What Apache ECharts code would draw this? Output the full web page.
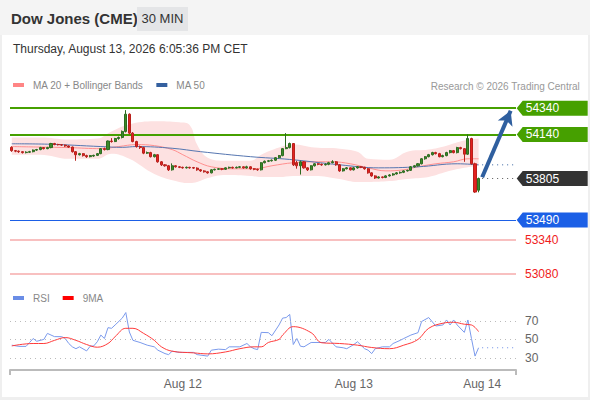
<!DOCTYPE html>
<html>
<head>
<meta charset="utf-8">
<script src="https://cdn.jsdelivr.net/npm/echarts@6/dist/echarts.min.js"></script>
<style>
  html, body { margin:0; padding:0; width:590px; height:400px; overflow:hidden; background:#efefef;
    font-family:"Liberation Sans", Arial, sans-serif; }
  #header { position:absolute; left:0; top:0; width:590px; height:35px; background:#f4f4f4; }
  #title { position:absolute; left:11px; top:10px; font-size:15px; font-weight:bold; color:#333; }
  #badge { position:absolute; left:137px; top:7px; width:51px; height:24px; line-height:24px; text-align:center;
    background:#e4e5e7; font-size:13px; color:#333; }
  #card { position:absolute; left:2px; top:35px; width:586px; height:362px; background:#fff; }
  #date { position:absolute; left:13px; top:42px; font-size:12px; color:#333; }
  #chart { position:absolute; left:0; top:0; width:590px; height:400px; }
</style>
</head>
<body>
<div id="header"><div id="title">Dow Jones (CME)</div><div id="badge">30 MIN</div></div>
<div id="card"></div>
<div id="date">Thursday, August 13, 2026 6:05:36 PM CET</div>
<div id="chart"></div>
<script>
// ---- data ----
const slotCount = 142;                       // 30-min slots on the time axis (incl. empty future slots)
const dateTicks = {48: 'Aug 12', 96: 'Aug 13', 132: 'Aug 14'};

// [open, close, low, high]
const candles = [
  [54042,54017,54008,54050],[54017,54013,54005,54022],[54013,54009,54000,54018],[54009,54002,53995,54012],
  [54002,54005,53996,54012],[54005,54009,54000,54015],[54009,54021,54004,54026],[54021,54025,54015,54030],
  [54025,54040,54020,54046],[54040,54032,54026,54044],[54032,54040,54028,54046],[54040,54071,54035,54076],
  [54071,54063,54058,54076],[54064,54062,54056,54069],[54062,54059,54052,54066],[54059,54052,54046,54063],
  [54052,54044,54038,54056],[54044,54009,54002,54048],[54009,53986,53940,54014],[53986,53994,53980,54000],
  [53994,53979,53972,53998],[53979,53971,53962,53986],[53971,53979,53966,53984],[53976,53981,53970,53986],
  [53981,53994,53976,53998],[53994,54032,53990,54036],[54032,54025,54018,54040],[54025,54090,54020,54094],
  [54090,54086,54078,54112],[54086,54109,54082,54114],[54109,54117,54100,54124],[54117,54163,54110,54170],
  [54163,54294,54155,54325],[54294,54150,54140,54300],[54150,54086,54080,54158],[54086,54048,54040,54092],
  [54048,54040,54030,54055],[54040,53998,53990,54046],[53998,54002,53992,54010],[54002,53971,53965,54008],
  [53971,53986,53965,53992],[53986,53932,53925,53990],[53932,53909,53900,53938],[53909,53902,53895,53915],
  [53902,53871,53862,53908],[53871,53902,53865,53920],[53902,53894,53888,53906],[53894,53890,53884,53898],
  [53890,53886,53880,53895],[53886,53890,53881,53896],[53890,53886,53880,53894],[53888,53884,53878,53893],
  [53884,53871,53864,53890],[53871,53863,53856,53876],[53863,53856,53850,53868],[53856,53848,53842,53860],
  [53848,53871,53844,53876],[53871,53875,53866,53880],[53875,53879,53870,53884],[53879,53875,53868,53884],
  [53875,53886,53870,53890],[53886,53890,53880,53895],[53890,53886,53880,53895],[53886,53890,53882,53896],
  [53890,53894,53884,53900],[53894,53886,53880,53898],[53886,53894,53880,53902],[53894,53879,53872,53898],
  [53879,53875,53868,53884],[53875,53871,53864,53880],[53871,53925,53866,53930],[53925,53936,53920,53942],
  [53936,53940,53930,53946],[53940,53944,53934,53950],[53944,53963,53938,53968],[53963,53979,53958,53984],
  [53979,54032,53974,54036],[54032,54040,54028,54150],[54040,54071,54034,54078],[54071,53909,53900,54075],
  [53925,53902,53880,53940],[53902,53932,53835,53940],[53932,53886,53880,53938],[53886,53871,53862,53890],
  [53871,53902,53866,53906],[53902,53917,53896,53922],[53917,53913,53906,53922],[53913,53909,53902,53918],
  [53909,53913,53904,53920],[53913,53925,53906,53932],[53925,53932,53920,53944],[53932,53909,53902,53938],
  [53909,53863,53856,53915],[53863,53879,53858,53884],[53879,53886,53874,53892],[53886,53871,53866,53890],
  [53871,53886,53866,53892],[53886,53894,53880,53900],[53894,53890,53884,53898],[53890,53879,53872,53894],
  [53879,53848,53842,53884],[53848,53825,53818,53852],[53825,53809,53802,53830],[53809,53817,53805,53822],
  [53817,53813,53806,53820],[53813,53825,53808,53830],[53825,53832,53820,53838],[53832,53840,53826,53846],
  [53840,53848,53835,53854],[53848,53852,53842,53858],[53852,53863,53846,53868],[53863,53867,53858,53872],
  [53867,53894,53862,53900],[53894,53902,53888,53908],[53902,53917,53896,53922],[53917,53955,53912,53960],
  [53955,53971,53948,53976],[53971,53986,53966,53992],[53986,54002,53980,54008],[54002,53994,53988,54008],
  [53994,53971,53966,54000],[53971,53979,53966,53986],[53979,54002,53974,54008],[54002,54017,53996,54022],
  [54017,54002,53996,54022],[54002,54040,53996,54046],[54040,54032,54026,54046],[54032,53990,53932,54036],
  [53990,54109,53985,54140],[54109,53917,53910,54115],[53917,53702,53696,53925],[53716,53805,53700,53812]
];

// [slot, value] read at visible turning points
const ma20 = [[0,54048],[8,54044],[16,54040],[25,54032],[30,54048],[35,54063],[40,54055],[45,54025],
  [48,53986],[52,53932],[56,53894],[62,53879],[68,53879],[73,53902],[79,53925],[86,53932],[90,53932],
  [95,53917],[100,53886],[105,53863],[110,53871],[114,53894],[119,53917],[124,53932],[128,53955],[131,53955]];
const ma50 = [[0,54069],[10,54066],[25,54048],[31,54042],[35,54048],[45,54035],[53,54009],[67,53971],
  [78,53950],[92,53909],[103,53886],[114,53894],[125,53917],[131,53909]];
const ma50Projection = [[132,53909],[141,53909]];
const bandUpper = [[0,54117],[8,54117],[16,54102],[24,54109],[28,54163],[33,54217],[40,54240],[47,54232],
  [50,54209],[52,54063],[55,53963],[60,53940],[67,53940],[70,53986],[75,54040],[79,54063],[85,54040],
  [92,54032],[97,54009],[100,53955],[106,53948],[111,54009],[117,54025],[122,54055],[127,54094],[131,54109]];
const bandLower = [[0,53986],[8,53986],[16,53955],[24,53955],[28,53994],[33,53955],[40,53840],[47,53779],
  [50,53771],[52,53779],[55,53809],[60,53832],[67,53825],[70,53817],[75,53817],[79,53825],[85,53825],
  [92,53802],[97,53779],[100,53779],[106,53786],[111,53802],[117,53817],[122,53856],[127,53886],[131,53902]];
const lastPrice = [[132,53805],[141,53805]];

const resistances = [54340, 54140];
const lastPriceLevel = 53805;
const pivot = 53490;
const supports = [53340, 53080];
const arrowPath = [[132, 53815], [140, 54320]];

const rsi = [[0,43.8],[2,42.5],[4,42.5],[5,46.7],[6,51],[7,48],[9,50],[10,56.5],[12,53],[14,53],[15,51],
  [16,45.6],[17,42],[18,40],[19,42],[21,37.6],[22,42.7],[23,43],[24,47.5],[25,54.7],[26,51],[27,62.7],
  [28,62],[29,65.6],[31,73],[32,79],[33,58],[34,49],[36,46.7],[38,43.8],[40,42],[41,38.4],[43,34.7],
  [44,33.6],[45,37.3],[47,36],[51,36],[52,33.6],[55,32],[56,38.4],[58,39.5],[60,39],[61,42],[64,42],
  [66,45.6],[67,42],[68,40],[69,39],[70,57.6],[72,57.3],[73,54],[75,65.6],[76,73],[77,73.6],[78,77],
  [79,44.5],[80,51],[81,42.7],[82,42],[84,46.7],[88,46.7],[89,50],[91,42],[93,41],[94,40],[96,44.5],
  [97,47.5],[99,40],[100,38.4],[101,34.7],[102,40],[104,42],[106,42],[107,45.6],[109,49],[110,51],
  [112,54.7],[114,57.3],[115,69.3],[117,73.6],[119,64.5],[121,65.6],[122,71],[123,65.6],[124,71],
  [125,65.6],[127,57.6],[128,71],[129,51],[130,32],[131,41]];
const rsiProjection = [[132,41],[141,41]];
const rsiMa = [[0,43],[6,45.6],[9,45.6],[12,49],[15,52],[18,49],[21,44.5],[24,41.6],[27,45.6],[29,53],
  [32,62],[34,62],[37,56.5],[40,49],[42,42],[45,37.3],[51,35.5],[55,34.4],[60,36.5],[64,40],[68,42],
  [70,42],[72,46.7],[75,50],[76,54.7],[79,63.8],[84,57.3],[87,46.4],[92,45.6],[97,43.8],[101,41.3],
  [106,40],[110,43.8],[114,50],[117,62],[121,67.5],[124,68.5],[127,66.4],[129,65.6],[131,58.4]];
const rsiLevels = [70, 50, 30];

// ---- chart ----
const slots = Array.from({length: slotCount}, (_, i) => String(i));
const bandWidth = bandUpper.map((p, k) => [p[0], p[1] - bandLower[k][1]]);
const FONT = '"Liberation Sans", Arial, sans-serif';
const GREEN = '#46a000', BLUE = '#1b5fe6', DARK = '#333333', PINKLINE = '#f6abab', RED = '#f01c1c';
const tagPath = 'path://M0,7.5 L6,0 L71,0 L71,15 L6,15 Z';

function tag(value, color) {
  return { coord: [slotCount - 1, value], value: value, itemStyle: { color: color } };
}

const chart = echarts.init(document.getElementById('chart'), null, { renderer: 'svg' });
chart.setOption({
  animation: false,
  textStyle: { fontFamily: FONT },
  title: [{
    text: 'Research © 2026 Trading Central', right: 10, top: 81, padding: 0,
    textStyle: { fontSize: 10, fontWeight: 'normal', color: '#999', fontFamily: FONT }
  }],
  legend: [{
    data: ['MA 20 + Bollinger Bands', 'MA 50'], left: 13, top: 80, padding: 0, icon: 'rect',
    itemWidth: 11, itemHeight: 4, itemGap: 13, selectedMode: false,
    textStyle: { color: '#888', fontSize: 10, padding: [0, 0, 0, 4] }
  }, {
    data: ['RSI', '9MA'], left: 13, top: 293, padding: 0, icon: 'rect',
    itemWidth: 11, itemHeight: 4, itemGap: 13, selectedMode: false,
    textStyle: { color: '#888', fontSize: 10, padding: [0, 0, 0, 4] }
  }],
  grid: [
    { left: 10, right: 74, top: 95, height: 192 },
    { left: 10, right: 74, top: 307, height: 63 }
  ],
  xAxis: [
    { type: 'category', gridIndex: 0, data: slots, boundaryGap: true, show: false },
    { type: 'category', gridIndex: 1, data: slots, boundaryGap: true,
      axisLine: { lineStyle: { color: '#bbb', width: 2 } },
      axisTick: { show: true, length: 5, interval: (i) => i === 0, lineStyle: { color: '#bbb', width: 2 } },
      axisLabel: { interval: (i) => dateTicks[i] !== undefined, formatter: (v, i) => dateTicks[i] || '',
        color: '#666', fontSize: 12, margin: 8 },
      splitLine: { show: false } }
  ],
  yAxis: [
    { type: 'value', gridIndex: 0, min: 52980, max: 54440, show: false, splitLine: { show: false } },
    { type: 'value', gridIndex: 1, min: 17, max: 85, show: false, splitLine: { show: false } }
  ],
  series: [
    { name: 'bbLow', type: 'line', data: bandLower, stack: 'bb', smooth: 0.4, symbol: 'none',
      lineStyle: { opacity: 0 }, silent: true, z: 1 },
    { name: 'bbFill', type: 'line', data: bandWidth, stack: 'bb', smooth: 0.4, symbol: 'none',
      lineStyle: { opacity: 0 }, areaStyle: { color: '#fde1e1', opacity: 1 }, silent: true, z: 1 },
    { name: 'MA 20 + Bollinger Bands', type: 'line', data: ma20, smooth: 0.4, symbol: 'none',
      color: '#ff8585', lineStyle: { width: 1, color: '#ff8f8f' }, z: 2 },
    { name: 'MA 50', type: 'line', data: ma50, smooth: 0.4, symbol: 'none',
      color: '#34609f', lineStyle: { width: 1, color: '#5676b0' }, z: 2 },
    { name: 'ma50proj', type: 'line', data: ma50Projection, symbol: 'none',
      lineStyle: { width: 1, type: [1, 4], color: '#34609f' }, z: 2 },
    { name: 'lastproj', type: 'line', data: lastPrice, symbol: 'none',
      lineStyle: { width: 1, type: [1, 4], color: '#555' }, z: 2 },
    { name: 'price', type: 'candlestick', data: candles, barWidth: '72%', z: 5,
      itemStyle: { color: '#3b8a2a', color0: '#e3211f', borderColor: '#2d6b20', borderColor0: '#b8201c', borderWidth: 1 },
      markLine: {
        silent: true, symbol: ['none', 'none'], animation: false,
        data: [
          ...resistances.map(v => ({ yAxis: v, lineStyle: { color: GREEN, width: 2, type: 'solid' }, label: { show: false } })),
          { yAxis: pivot, lineStyle: { color: BLUE, width: 1, type: 'solid' }, label: { show: false } },
          ...supports.map(v => ({ yAxis: v, lineStyle: { color: PINKLINE, width: 1.5, type: 'solid' },
            label: { show: true, position: 'end', distance: 9, color: RED, fontSize: 12, formatter: String(v) } })),
          [ { coord: arrowPath[0], symbol: 'none' },
            { coord: arrowPath[1], symbol: 'arrow', symbolSize: [12, 14],
              lineStyle: { color: '#2f5f9f', width: 4, type: 'solid' }, label: { show: false } } ]
        ]
      },
      markPoint: {
        silent: true, symbol: tagPath, symbolSize: [71, 15], symbolOffset: [38, 0], symbolKeepAspect: false,
        label: { show: true, position: 'insideLeft', distance: 9, color: '#fff', fontSize: 12 },
        data: [
          ...resistances.map(v => tag(v, GREEN)),
          tag(lastPriceLevel, DARK),
          tag(pivot, BLUE)
        ]
      }
    },
    { name: 'RSI', type: 'line', xAxisIndex: 1, yAxisIndex: 1, data: rsi, symbol: 'none',
      color: '#6a8de6', lineStyle: { width: 1, color: '#7b9aec' }, z: 3,
      markLine: {
        silent: true, symbol: ['none', 'none'],
        lineStyle: { color: '#bbb', width: 1, type: [1, 4] },
        label: { show: true, position: 'end', distance: 9, color: '#666', fontSize: 12 },
        data: rsiLevels.map(v => ({ yAxis: v }))
      } },
    { name: 'rsiproj', type: 'line', xAxisIndex: 1, yAxisIndex: 1, data: rsiProjection, symbol: 'none',
      lineStyle: { width: 1, type: [1, 4], color: '#6a8de6' }, z: 3 },
    { name: '9MA', type: 'line', xAxisIndex: 1, yAxisIndex: 1, data: rsiMa, smooth: 0.4, symbol: 'none',
      color: '#ff0000', lineStyle: { width: 1, color: '#ff3b3b' }, z: 3 }
  ]
});
</script>
</body>
</html>
